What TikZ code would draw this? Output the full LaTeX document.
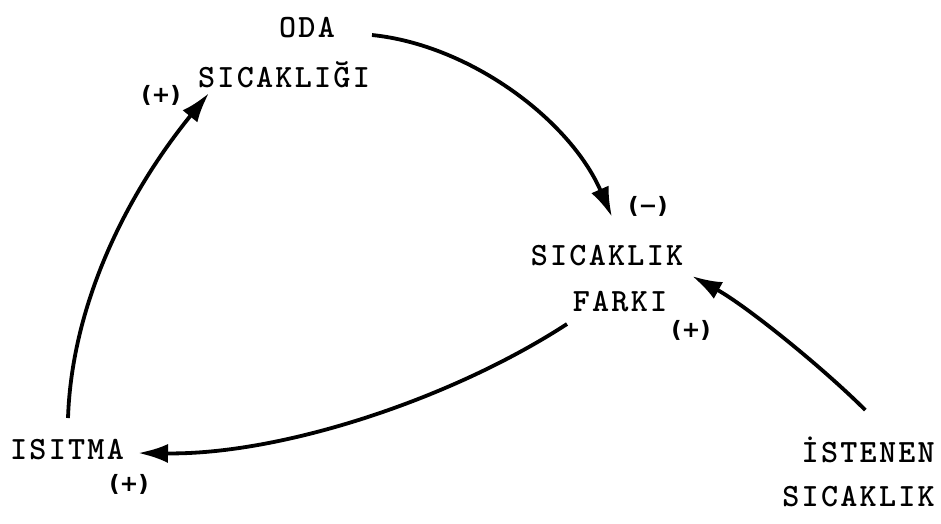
\documentclass[tikz,border=0pt]{standalone}
\usepackage{fontspec}
\usetikzlibrary{arrows.meta,calc}
% typewriter face for the variable names, heavy sans for the polarity signs
\newfontfamily\tw{lmmonolt10-bold.otf}[LetterSpace=7]
\newfontfamily\sgn{DejaVu Sans}
\begin{document}
\begin{tikzpicture}[x=1pt,y=-1pt,
  lbl/.style={font=\tw\fontsize{32.5}{38}\selectfont, inner sep=0pt},
  sign/.style={font=\sgn\bfseries\fontsize{22.5}{26}\selectfont, inner sep=0pt},
  link/.style={line width=3.8pt, -{Latex[length=30pt,width=19pt]}}]
\useasboundingbox (0,0) rectangle (941,523);

% variables
\node[lbl] (oda)    at (307,28)  {ODA};
\node[lbl] (odasic) at (284,75)  {SICAKLIĞI};
\node[lbl] (fark1)  at (607,256) {SICAKLIK};
\node[lbl] (fark2)  at (620,302) {FARKI};
\node[lbl] (isitma) at (67,450)  {ISITMA};
\node[lbl,anchor=east] (isten1) at (935,450) {İSTENEN};
\node[lbl,anchor=east] (isten2) at (935,497) {SICAKLIK};

% polarity signs
\node[sign] (s1) at (161,95)  {(+)};
\node[sign] (s2) at (648,206) {(−)};
\node[sign] (s3) at (691,330) {(+)};
\node[sign] (s4) at (129,484) {(+)};

% causal links
\draw[link] ($(isitma.center)+(1,-32)$) .. controls (72,300) and (130,190) .. ($(odasic.center)+(-75,18)$);
\draw[link] ($(oda.center)+(65,7)$) .. controls (470,45) and (570,120) .. ($(fark1.center)+(5,-39)$);
\draw[link] ($(isten1.center)+(-3,-40)$) .. controls (820,365) and (745,305) .. ($(fark1.center)+(85,20)$);
\draw[link] ($(fark2.center)+(-53,22)$) .. controls (450,400) and (280,455) .. ($(isitma.center)+(71,3)$);
\end{tikzpicture}
\end{document}
